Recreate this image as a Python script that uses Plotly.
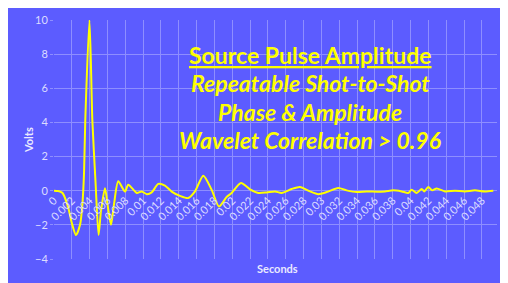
import plotly.graph_objects as go

# ---- data ----
time_s = [0, 0.00045, 0.00086, 0.00104, 0.0016, 0.002, 0.00247, 0.00292, 0.00317, 0.00337,
          0.00351, 0.00398, 0.0043, 0.00466, 0.005, 0.00527, 0.00572, 0.00606, 0.00639, 0.00673,
          0.00721, 0.00796, 0.00833, 0.00928, 0.00984, 0.0104, 0.01096, 0.0117, 0.01245, 0.0132,
          0.01413, 0.01506, 0.01582, 0.01675, 0.01769, 0.01851, 0.01937, 0.01993, 0.02098, 0.02199,
          0.02292, 0.02386, 0.02479, 0.02554, 0.02666, 0.02759, 0.02872, 0.02965, 0.03059, 0.03189,
          0.03283, 0.03395, 0.03508, 0.0362, 0.03713, 0.03806, 0.039, 0.03974, 0.04012, 0.04068,
          0.04125, 0.04154, 0.04199, 0.04243, 0.04293, 0.04386, 0.04498, 0.0461, 0.04722, 0.04834,
          0.04928]
volts = [0, -0.02, -0.1, -0.2, -1.0, -1.9, -2.6, -2.0, -0.9, 1.05,
         4.15, 10, 4.15, 0.5, -2.6, -1.2, 0.15, -1.0, -2.0, -0.8,
         0.55, -0.05, 0.35, -0.13, -0.04, -0.2, -0.1, 0.4, 0.3, -0.05,
         -0.3, -0.43, -0.04, 0.88, 0.05, -0.92, -0.37, -0.13, 0.45, 0.08,
         -0.13, -0.1, -0.04, -0.13, 0.1, 0.22, -0.04, -0.2, -0.08, 0.16,
         0.02, -0.08, -0.04, -0.06, -0.04, 0.02, -0.04, -0.13, 0.06, -0.13,
         0.1, -0.04, 0.22, 0.02, 0.13, -0.04, 0, -0.04, 0.02, -0.04,
         0]

x_tick_vals = [i * 0.002 for i in range(25)]
x_tick_text = ["0", "0.002", "0.004", "0.006", "0.008", "0.01", "0.012", "0.014", "0.016",
               "0.018", "0.02", "0.022", "0.024", "0.026", "0.028", "0.03", "0.032", "0.034",
               "0.036", "0.038", "0.04", "0.042", "0.044", "0.046", "0.048"]
y_tick_vals = [-4, -2, 0, 2, 4, 6, 8, 10]

title_lines = ["<u><b>Source Pulse Amplitude</b></u>",
               "<b><i>Repeatable Shot-to-Shot</i></b>",
               "<b><i>Phase &amp; Amplitude</i></b>",
               "<b><i>Wavelet Correlation &gt; 0.96</i></b>"]

# ---- styling ----
BLUE = "#5C5CFF"
GRID = "#8E8EFF"
TICK = "#DCDCFF"
YELLOW = "#FFFF00"
FONT = "Lato"

fig = go.Figure()
fig.add_trace(go.Scatter(x=time_s, y=volts, mode="lines",
                         line=dict(color=YELLOW, width=2, shape="spline", smoothing=0.7),
                         hoverinfo="skip", showlegend=False))

W, H = 508, 283
OFF = 8  # page body margin in the browser
L, R, T, B = 46, 19, 12, 32
pw, ph = W - L - R, H - T - B

def px_x(px):
    return (px - OFF - L) / pw

def px_y(py):
    return (H - B - (py - OFF)) / ph

title_y = [55, 83, 112, 140]
for txt, yy in zip(title_lines, title_y):
    fig.add_annotation(text=txt, xref="paper", yref="paper", x=px_x(310), y=px_y(yy),
                       showarrow=False, xanchor="center", yanchor="middle",
                       font=dict(family=FONT, size=23, color=YELLOW))

fig.add_annotation(text="<b>Seconds</b>", xref="paper", yref="paper",
                   x=px_x(277), y=px_y(268), showarrow=False,
                   xanchor="center", yanchor="middle",
                   font=dict(family=FONT, size=11, color="#EAEAFF"))
fig.add_annotation(text="<b>Volts</b>", xref="paper", yref="paper",
                   x=px_x(28), y=px_y(140), showarrow=False, textangle=-90,
                   xanchor="center", yanchor="middle",
                   font=dict(family=FONT, size=11, color="#EAEAFF"))

fig.update_layout(
    width=W, height=H,
    margin=dict(l=L, r=R, t=T, b=B, pad=0, autoexpand=False),
    paper_bgcolor=BLUE, plot_bgcolor=BLUE,
    xaxis=dict(range=[0, 0.0497], tickvals=x_tick_vals, ticktext=x_tick_text,
               tickangle=-45, showgrid=True, gridcolor=GRID, gridwidth=1,
               zeroline=False, showline=False, ticks="", automargin=False,
               anchor="free", position=px_y(191),
               tickfont=dict(family=FONT, size=11, color=TICK)),
    yaxis=dict(range=[-4, 10], tickvals=y_tick_vals, showgrid=True, gridcolor=GRID,
               gridwidth=1, zeroline=False, showline=False, ticks="outside",
               ticklen=3, tickcolor=GRID, automargin=False,
               tickfont=dict(family=FONT, size=11, color=TICK)),
)

fig.write_html("out.html")
